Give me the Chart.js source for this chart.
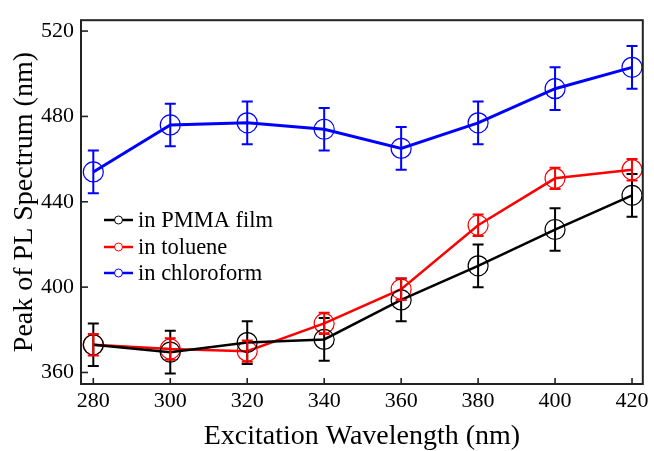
<!DOCTYPE html>
<html>
<head>
<meta charset="utf-8">
<script src="https://cdn.jsdelivr.net/npm/chart.js@4.4.1/dist/chart.umd.min.js"></script>
<style>
  html, body { margin: 0; padding: 0; background: #fff; }
  #wrap { width: 654px; height: 451px; position: relative; }
</style>
</head>
<body>
<div id="wrap"><canvas id="chart"></canvas></div>
<script>
// Data
const wavelengths = [280, 300, 320, 340, 360, 380, 400, 420];
const pmma = [373, 369.5, 374, 375.5, 394, 410, 427, 443];
const pmmaErr = [10, 10, 10, 10, 10, 10, 10, 10];
const toluene = [373, 371, 370, 383, 399, 429, 451, 455];
const tolueneErr = [5, 5, 5, 5, 5, 5, 5, 5];
const chloroform = [454, 476, 477, 474, 465, 477, 493, 503];
const chloroformErr = [10, 10, 10, 10, 10, 10, 10, 10];
const xTicks = [280, 300, 320, 340, 360, 380, 400, 420];
const yTicks = [360, 400, 440, 480, 520];

const FONT = "'Liberation Serif', 'Times New Roman', serif";

function toPoints(ys) {
    return wavelengths.map((x, i) => ({ x: x, y: ys[i] }));
}

function makeSet(label, ys, errs, color, lw) {
    return {
        label: label,
        data: toPoints(ys),
        errors: errs,
        borderColor: color,
        borderWidth: lw,
        backgroundColor: 'transparent',
        pointRadius: 10,
        pointBorderWidth: 1.2,
        pointBorderColor: color,
        pointBackgroundColor: 'transparent',
        pointHoverRadius: 10,
        tension: 0
    };
}

// error bars, drawn through the scales
const errorBars = {
    id: 'errorBars',
    afterDatasetsDraw(chart) {
        const ctx = chart.ctx;
        const xs = chart.scales.x, ys = chart.scales.y;
        chart.data.datasets.forEach(ds => {
            ctx.save();
            ctx.strokeStyle = ds.borderColor;
            ctx.lineWidth = 2;
            ds.data.forEach((p, i) => {
                const e = ds.errors[i];
                const px = xs.getPixelForValue(p.x);
                const top = ys.getPixelForValue(p.y + e);
                const bot = ys.getPixelForValue(p.y - e);
                ctx.beginPath();
                ctx.moveTo(px, top); ctx.lineTo(px, bot);
                ctx.moveTo(px - 5.5, top); ctx.lineTo(px + 5.5, top);
                ctx.moveTo(px - 5.5, bot); ctx.lineTo(px + 5.5, bot);
                ctx.stroke();
            });
            ctx.restore();
        });
    }
};

// box frame + inward ticks
const frame = {
    id: 'frame',
    afterDraw(chart) {
        const ctx = chart.ctx;
        const a = chart.chartArea;
        const xs = chart.scales.x, ys = chart.scales.y;
        ctx.save();
        ctx.strokeStyle = '#222';
        ctx.lineWidth = 1.6;
        xTicks.forEach(v => {
            const px = xs.getPixelForValue(v);
            ctx.beginPath();
            ctx.moveTo(px, a.bottom); ctx.lineTo(px, a.bottom - 6);
            ctx.stroke();
        });
        yTicks.forEach(v => {
            const py = ys.getPixelForValue(v);
            ctx.beginPath();
            ctx.moveTo(a.left, py); ctx.lineTo(a.left + 7, py);
            ctx.stroke();
        });
        ctx.lineWidth = 2;
        ctx.strokeRect(a.left, a.top, a.right - a.left, a.bottom - a.top);
        ctx.restore();
    }
};

// legend inside the plot: line + small circle + text
const legendBox = {
    id: 'legendBox',
    afterDraw(chart) {
        const ctx = chart.ctx;
        const rows = [220, 247, 273];
        ctx.save();
        ctx.font = '22.5px ' + FONT;
        ctx.textBaseline = 'middle';
        ctx.fillStyle = '#000';
        chart.data.datasets.forEach((ds, i) => {
            const y = rows[i];
            ctx.strokeStyle = ds.borderColor;
            ctx.lineWidth = 2.5;
            ctx.beginPath();
            ctx.moveTo(104, y); ctx.lineTo(133, y);
            ctx.stroke();
            ctx.lineWidth = 1;
            ctx.fillStyle = '#fff';
            ctx.beginPath();
            ctx.arc(118.5, y, 4, 0, Math.PI * 2);
            ctx.fill();
            ctx.stroke();
            ctx.fillStyle = '#000';
            ctx.fillText(ds.label, 138, y + 1);
        });
        ctx.restore();
    }
};

new Chart(document.getElementById('chart'), {
    type: 'line',
    data: {
        datasets: [
            makeSet('in PMMA film', pmma, pmmaErr, '#000000', 2.5),
            makeSet('in toluene', toluene, tolueneErr, '#ff0000', 2.5),
            makeSet('in chloroform', chloroform, chloroformErr, '#0000ff', 3)
        ]
    },
    options: {
        responsive: true,
        maintainAspectRatio: false,
        animation: false,
        layout: { padding: { left: 0, right: 8, top: 16, bottom: 0 } },
        plugins: {
            legend: { display: false },
            tooltip: { enabled: false }
        },
        scales: {
            x: {
                type: 'linear',
                min: 276.8,
                max: 422.8,
                afterFit(s) { s.height = 67; },
                afterBuildTicks(s) { s.ticks = xTicks.map(v => ({ value: v })); },
                grid: { display: false, drawTicks: false },
                border: { display: false },
                ticks: {
                    color: '#000',
                    padding: 4,
                    maxRotation: 0,
                    font: { family: FONT, size: 22 }
                },
                title: {
                    display: true,
                    text: 'Excitation Wavelength (nm)',
                    color: '#000',
                    padding: { top: 0, bottom: 0 },
                    font: { family: FONT, size: 28, lineHeight: 1 }
                }
            },
            y: {
                type: 'linear',
                min: 354.6,
                max: 525.1,
                afterFit(s) { s.width = 81; },
                afterBuildTicks(s) { s.ticks = yTicks.map(v => ({ value: v })); },
                grid: { display: false, drawTicks: false },
                border: { display: false },
                ticks: {
                    color: '#000',
                    padding: 7,
                    font: { family: FONT, size: 22 }
                },
                title: {
                    display: true,
                    text: 'Peak of PL Spectrum (nm)',
                    color: '#000',
                    padding: { top: 11, bottom: 0 },
                    font: { family: FONT, size: 28, lineHeight: 1 }
                }
            }
        }
    },
    plugins: [errorBars, frame, legendBox]
});
</script>
</body>
</html>
